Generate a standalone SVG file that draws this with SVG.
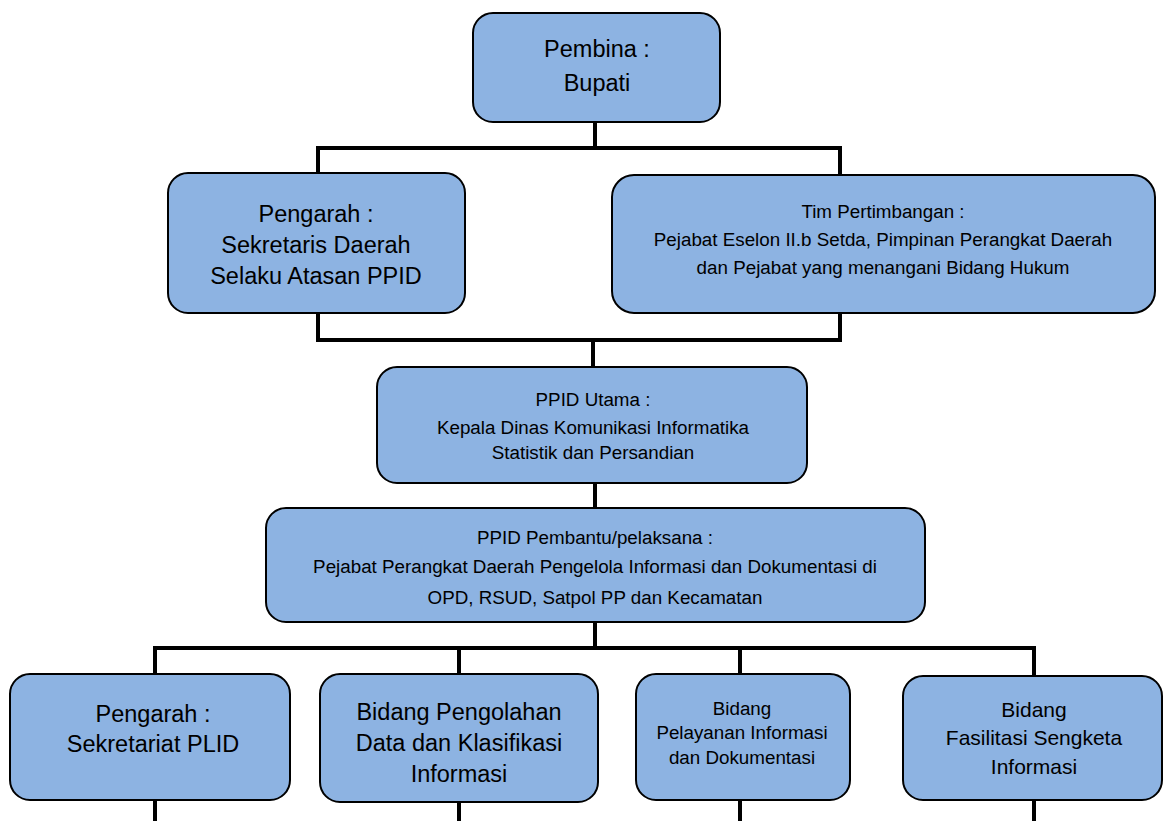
<svg xmlns="http://www.w3.org/2000/svg" width="1163" height="821" viewBox="0 0 1163 821">
<style>
.box{fill:#8DB3E2;stroke:#000;stroke-width:2}
.t{font-family:"Liberation Sans",Arial,sans-serif;fill:#000;text-anchor:middle}
.l{font-size:23.5px}
.m{font-size:21px}
.s{font-size:18.8px}
.c{fill:none;stroke:#000;stroke-width:4}
</style>
<rect width="1163" height="821" fill="#fff"/>
<g id="connectors">
<path class="c" d="M595 122V148M318 173V148H840V175"/>
<path class="c" d="M318 313V340H840V313M593 340V368"/>
<path class="c" d="M595 483V508"/>
<path class="c" d="M595 622V648M155 674V648H1034V676M459 648V674M740 648V674"/>
<path class="c" d="M155 800V821M459 802V821M740 800V821M1034 800V821"/>
</g>
<g id="pembina">
<rect class="box" x="473" y="13" width="247" height="109" rx="20"/>
<text class="t l" x="597" y="57">Pembina :</text>
<text class="t l" x="597" y="91">Bupati</text>
</g>
<g id="pengarah">
<rect class="box" x="168" y="173" width="297" height="140" rx="20"/>
<text class="t l" x="316" y="222">Pengarah :</text>
<text class="t l" x="316" y="253">Sekretaris Daerah</text>
<text class="t l" x="316" y="284">Selaku Atasan PPID</text>
</g>
<g id="tim">
<rect class="box" x="612" y="175" width="543" height="138" rx="22"/>
<text class="t s" x="883" y="218">Tim Pertimbangan :</text>
<text class="t s" x="883" y="246">Pejabat Eselon II.b Setda, Pimpinan Perangkat Daerah</text>
<text class="t s" x="883" y="274">dan Pejabat yang menangani Bidang Hukum</text>
</g>
<g id="ppid-utama">
<rect class="box" x="377" y="367" width="430" height="116" rx="20"/>
<text class="t s" x="593" y="406">PPID Utama :</text>
<text class="t s" x="593" y="434">Kepala Dinas Komunikasi Informatika</text>
<text class="t s" x="593" y="459">Statistik dan Persandian</text>
</g>
<g id="ppid-pembantu">
<rect class="box" x="266" y="508" width="659" height="114" rx="20"/>
<text class="t s" x="595" y="544">PPID Pembantu/pelaksana :</text>
<text class="t s" x="595" y="573">Pejabat Perangkat Daerah Pengelola Informasi dan Dokumentasi di</text>
<text class="t s" x="595" y="604">OPD, RSUD, Satpol PP dan Kecamatan</text>
</g>
<g id="sekretariat">
<rect class="box" x="10" y="674" width="280" height="126" rx="20"/>
<text class="t l" x="153" y="722">Pengarah :</text>
<text class="t l" x="153" y="752">Sekretariat PLID</text>
</g>
<g id="pengolahan">
<rect class="box" x="320" y="674" width="278" height="128" rx="20"/>
<text class="t l" x="459" y="720">Bidang Pengolahan</text>
<text class="t l" x="459" y="751">Data dan Klasifikasi</text>
<text class="t l" x="459" y="782">Informasi</text>
</g>
<g id="pelayanan">
<rect class="box" x="636" y="674" width="214" height="126" rx="20"/>
<text class="t s" x="742" y="715">Bidang</text>
<text class="t s" x="742" y="739">Pelayanan Informasi</text>
<text class="t s" x="742" y="764">dan Dokumentasi</text>
</g>
<g id="sengketa">
<rect class="box" x="903" y="676" width="259" height="124" rx="20"/>
<text class="t m" x="1034" y="717">Bidang</text>
<text class="t m" x="1034" y="745">Fasilitasi Sengketa</text>
<text class="t m" x="1034" y="774">Informasi</text>
</g>
</svg>
